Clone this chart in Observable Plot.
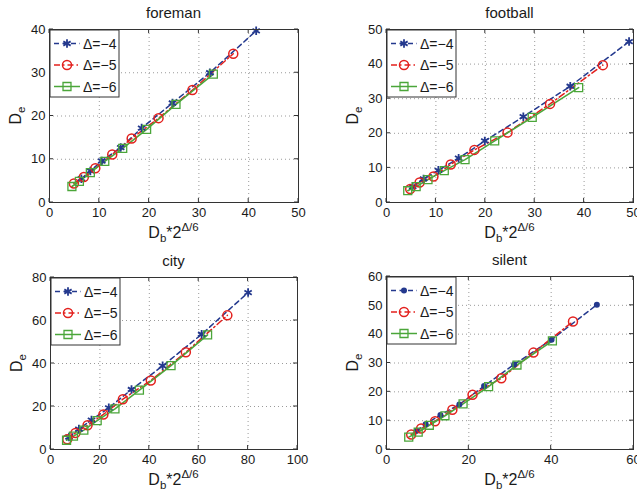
<!DOCTYPE html>
<html><head><meta charset="utf-8">
<script src="https://cdn.jsdelivr.net/npm/d3@7"></script>
<script src="https://cdn.jsdelivr.net/npm/@observablehq/plot@0.6"></script>
<style>
body{margin:0;background:#fff;}
#wrap{position:relative;width:637px;height:493px;overflow:hidden;font-family:"Liberation Sans",Arial,sans-serif;background:#fff;}
#wrap svg{position:absolute;}
</style></head><body><div id="wrap"></div>
<script>
// Series labels (Δ values)
const seriesLabels = ["Δ=−4", "Δ=−5", "Δ=−6"];
const seriesColors = ["#24398e", "#e3201d", "#4ba63a"];

// [D_b*2^(Δ/6), D_e] pairs
const foreman4 = [[6.4,5.5],[8.2,7.3],[10.5,9.6],[14.3,12.7],[18.5,17.2],[24.7,23.0],[32.2,30.0],[41.5,39.7]];
const foreman5 = [[4.9,4.4],[6.9,5.9],[9.2,7.9],[12.6,11.1],[16.5,14.8],[21.9,19.5],[28.7,26.0],[36.9,34.4]];
const foreman6 = [[4.5,3.7],[6.0,4.9],[8.2,6.9],[11.1,9.5],[14.7,12.5],[19.5,16.9],[25.4,22.7],[32.9,29.7]];

const football4 = [[5.3,4.6],[7.5,6.8],[10.5,9.3],[14.6,12.8],[19.9,17.8],[27.7,24.8],[37.2,33.6],[49.1,46.5]];
const football5 = [[4.8,3.9],[6.7,5.8],[9.5,7.5],[13.0,11.0],[17.8,15.2],[24.5,20.2],[33.1,28.5],[43.8,39.7]];
const football6 = [[4.3,3.4],[6.0,4.6],[8.4,6.6],[11.7,9.2],[15.9,12.4],[21.9,17.8],[29.5,24.6],[38.9,33.2]];

const city4 = [[7.5,5.8],[11.5,9.5],[16.6,13.7],[23.6,19.4],[32.8,27.9],[45.4,38.9],[61.2,53.6],[80.0,73.0]];
const city5 = [[6.8,4.8],[10.1,7.7],[15.0,11.3],[21.4,16.3],[29.3,23.4],[40.6,32.1],[54.8,45.2],[71.6,62.4]];
const city6 = [[6.5,4.3],[9.3,6.2],[13.5,9.0],[18.9,13.4],[26.1,18.9],[36.0,27.6],[48.8,39.0],[63.6,53.3]];

const silent4 = [[7.3,6.5],[9.5,8.8],[13.1,12.0],[17.7,15.6],[23.7,22.0],[31.0,29.5],[40.1,38.1],[51.1,50.2]];
const silent5 = [[6.0,5.2],[8.4,7.3],[11.8,9.8],[16.0,13.8],[20.9,19.0],[27.9,24.7],[35.7,33.6],[45.3,44.4]];
const silent6 = [[5.4,4.3],[7.7,6.0],[10.4,8.4],[14.2,11.7],[18.6,15.8],[24.8,21.8],[31.7,29.3],[40.3,37.7]];

// Axis tick values
const foremanXTicks = [0,10,20,30,40,50], foremanYTicks = [0,10,20,30,40];
const footballXTicks = [0,10,20,30,40,50], footballYTicks = [0,10,20,30,40,50];
const cityXTicks = [0,20,40,60,80,100], cityYTicks = [0,20,40,60,80];
const silentXTicks = [0,20,40,60], silentYTicks = [0,10,20,30,40,50,60];

const FONT = '"Liberation Sans", Arial, sans-serif';
const wrap = document.getElementById("wrap");

function panel(cfg) {
  const {title, s4, s5, s6, xt, yt, left, top, width, height, mL, mR, mT, mB, dot4} = cfg;
  const X = d => d[0], Y = d => d[1];
  const plot = Plot.plot({
    width, height, marginLeft: mL, marginRight: mR, marginTop: mT, marginBottom: mB,
    style: {fontFamily: FONT, fontSize: "13px", color: "#1a1a1a", background: "transparent", overflow: "visible"},
    x: {domain: [xt[0], xt[xt.length - 1]], label: null},
    y: {domain: [yt[0], yt[yt.length - 1]], label: null},
    marks: [
      Plot.gridX(xt, {stroke: "#9a9a9a", strokeOpacity: 1, strokeDasharray: "1,3"}),
      Plot.gridY(yt, {stroke: "#9a9a9a", strokeOpacity: 1, strokeDasharray: "1,3"}),
      Plot.line(s4, {x: X, y: Y, stroke: seriesColors[0], strokeWidth: 1.5, strokeDasharray: "5,3.5"}),
      Plot.line(s5, {x: X, y: Y, stroke: seriesColors[1], strokeWidth: 1.5, strokeDasharray: "6,3,1.5,3"}),
      Plot.line(s6, {x: X, y: Y, stroke: seriesColors[2], strokeWidth: 1.6}),
      dot4
        ? Plot.dot(s4, {x: X, y: Y, symbol: "circle", r: 3, fill: seriesColors[0], stroke: "none"})
        : Plot.dot(s4, {x: X, y: Y, symbol: "asterisk", r: 4, stroke: seriesColors[0], strokeWidth: 1.8, fill: "none"}),
      Plot.dot(s5, {x: X, y: Y, symbol: "circle", r: 4.5, stroke: seriesColors[1], strokeWidth: 1.5, fill: "none"}),
      Plot.dot(s6, {x: X, y: Y, symbol: "square", r: 4.5, stroke: seriesColors[2], strokeWidth: 1.3, fill: "none"}),
      Plot.frame({stroke: "#333"}),
      Plot.axisX(xt, {tickSize: 0, tickPadding: 5, fontSize: 13, label: null}),
      Plot.axisY(yt, {tickSize: 0, tickPadding: 4, fontSize: 13, label: null})
    ]
  });
  plot.style.left = left + "px";
  plot.style.top = top + "px";
  const svg = d3.select(plot);
  const sx = plot.scale("x"), sy = plot.scale("y");
  const x0 = mL, x1 = width - mR, y0 = mT, y1 = height - mB;
  const tk = 4;
  const g = svg.append("g").attr("stroke", "#333").attr("stroke-width", 1);
  xt.forEach(v => {
    const px = sx.apply(v);
    g.append("line").attr("x1", px).attr("x2", px).attr("y1", y1).attr("y2", y1 - tk);
    g.append("line").attr("x1", px).attr("x2", px).attr("y1", y0).attr("y2", y0 + tk);
  });
  yt.forEach(v => {
    const py = sy.apply(v);
    g.append("line").attr("y1", py).attr("y2", py).attr("x1", x0).attr("x2", x0 + tk);
    g.append("line").attr("y1", py).attr("y2", py).attr("x1", x1).attr("x2", x1 - tk);
  });
  // title
  svg.append("text").attr("x", (x0 + x1) / 2).attr("y", y0 - 11).attr("text-anchor", "middle")
    .attr("font-family", FONT).attr("font-size", 15).attr("fill", "#1a1a1a").text(title);
  // x label
  const xl = svg.append("text").attr("x", (x0 + x1) / 2).attr("y", y1 + 36).attr("text-anchor", "middle")
    .attr("font-family", FONT).attr("font-size", 16).attr("fill", "#1a1a1a");
  xl.append("tspan").text("D");
  xl.append("tspan").attr("font-size", 11.5).attr("dy", 4).text("b");
  xl.append("tspan").attr("dy", -4).text("*2");
  xl.append("tspan").attr("font-size", 11.5).attr("dy", -7).text("Δ/6");
  // y label
  const yl = svg.append("text").attr("transform", `translate(${x0 - 28},${(y0 + y1) / 2}) rotate(-90)`)
    .attr("text-anchor", "middle").attr("font-family", FONT).attr("font-size", 16).attr("fill", "#1a1a1a");
  yl.append("tspan").text("D");
  yl.append("tspan").attr("font-size", 11.5).attr("dy", 4).text("e");
  // legend
  const lg = svg.append("g").attr("transform", `translate(${x0 + 1},${y0 + 1})`);
  lg.append("rect").attr("width", 69).attr("height", 67).attr("fill", "#fff").attr("stroke", "#333").attr("stroke-width", 1);
  const rowsY = [13.5, 35, 56.5];
  const dashes = ["5,3.5", "6,3,1.5,3", null];
  rowsY.forEach((ry, i) => {
    const ln = lg.append("line").attr("x1", 4).attr("x2", 30).attr("y1", ry).attr("y2", ry)
      .attr("stroke", seriesColors[i]).attr("stroke-width", 1.5);
    if (dashes[i]) ln.attr("stroke-dasharray", dashes[i]);
    let sym, fill = "none", stroke = seriesColors[i], sw = 1.5, size;
    if (i === 0) {
      if (dot4) { sym = d3.symbolCircle; size = Math.PI * 9; fill = seriesColors[0]; stroke = "none"; }
      else { sym = d3.symbolAsterisk; size = Math.PI * 16; sw = 1.8; }
    } else if (i === 1) { sym = d3.symbolCircle; size = Math.PI * 4.5 * 4.5; }
    else { sym = d3.symbolSquare; size = Math.PI * 4.5 * 4.5; sw = 1.3; }
    lg.append("path").attr("d", d3.symbol(sym, size)()).attr("transform", `translate(17,${ry})`)
      .attr("fill", fill).attr("stroke", stroke).attr("stroke-width", sw);
    lg.append("text").attr("x", 33).attr("y", ry + 5).attr("text-anchor", "start")
      .attr("font-family", FONT).attr("font-size", 14)
      .attr("fill", "#1a1a1a").text(seriesLabels[i]);
  });
  wrap.appendChild(plot);
}

panel({title: "foreman", s4: foreman4, s5: foreman5, s6: foreman6, xt: foremanXTicks, yt: foremanYTicks,
  left: 0, top: 0, width: 318, height: 245, mL: 49, mR: 20, mT: 29, mB: 43});
panel({title: "football", s4: football4, s5: football5, s6: football6, xt: footballXTicks, yt: footballYTicks,
  left: 318, top: 0, width: 319, height: 245, mL: 68, mR: 4, mT: 29, mB: 43});
panel({title: "city", s4: city4, s5: city5, s6: city6, xt: cityXTicks, yt: cityYTicks,
  left: 0, top: 245, width: 318, height: 248, mL: 50, mR: 21, mT: 32, mB: 44});
panel({title: "silent", s4: silent4, s5: silent5, s6: silent6, xt: silentXTicks, yt: silentYTicks,
  left: 318, top: 245, width: 319, height: 248, mL: 68, mR: 4, mT: 31, mB: 44, dot4: true});
</script></body></html>
